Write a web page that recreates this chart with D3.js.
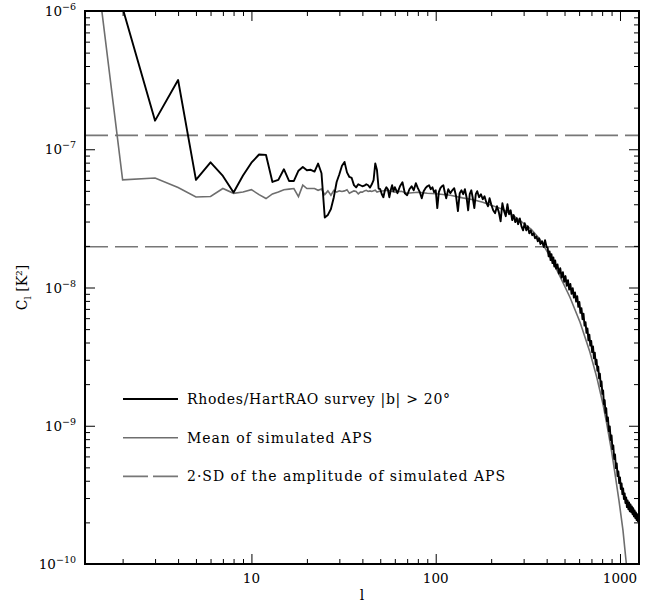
<!DOCTYPE html>
<html>
<head>
<meta charset="utf-8">
<script src="https://cdn.jsdelivr.net/npm/d3@7"></script>
<style>
  body { margin: 0; background: #fff; }
  text { font-family: "DejaVu Serif", serif; fill: #000; }
</style>
</head>
<body>
<svg id="chart" width="658" height="603"></svg>
<script>
// Rhodes/HartRAO survey APS, |b| > 20 deg
var survey_l = [2,3,4,5,6,7,8,9,10,11,12,13,14,15,16,17,18,19,20,21,22,23,24,25,26,27,28,29,30,31,32,33,34,35,36,37,38,39,40,41,42,43,44,45,46,47,48,49,
  50,51,52,53,54,55,56,57,58,59,60,62,64,66,68,70,72,74,76,78,80,82,84,86,88,90,92,94,96,98,100,102,104,106,108,110,112,114,117,120,123,126,129,132,135,138,141,144,147,150,153,156,159,162,165,168,172,176,180,184,188,192,196,200,205,210,215,220,225,230,235,240,245,250,255,260,265,270,275,280,286,292,298,304,310,316,322,328,334,340,346,352,358,364,370,378,386,392,400,
  405,410,415,420,425,430,435,440,445,450,458,466,474,482,490,498,506,514,522,530,538,546,554,562,570,578,586,594,602,610,618,626,634,642,650,658,666,674,682,690,698,706,714,722,730,738,746,754,762,770,778,786,794,802,810,818,826,834,842,850,860,870,880,890,900,910,920,930,940,950,960,970,980,990,1000,1010,1020,1030,1040,1050,1060,1070,1080,1090,1100,1110,1120,1130,1140,1150,1160,1170,1180,1190,1200,1210,1220,1230,1240,1250,1260,1268];
var survey_c = [1.05e-6,1.61e-7,3.17e-7,6.0e-8,8.05e-8,6.41e-8,4.86e-8,6.45e-8,8.0e-8,9.16e-8,9.1e-8,5.8e-8,6.0e-8,7.17e-8,5.9e-8,5.9e-8,7.0e-8,7.45e-8,7.05e-8,7.1e-8,6.9e-8,7.88e-8,6.7e-8,3.21e-8,3.35e-8,3.7e-8,4.5e-8,5.8e-8,6.6e-8,7.6e-8,8.1e-8,6.8e-8,6.3e-8,6.2e-8,5.5e-8,5.3e-8,5.58e-8,5.49e-8,5.40e-8,5.45e-8,5.58e-8,5.49e-8,5.28e-8,5.58e-8,5.97e-8,7.9e-8,7.08e-8,5.2e-8,
  5.14e-8,4.73e-8,4.50e-8,5.05e-8,5.31e-8,5.14e-8,4.50e-8,5.05e-8,5.49e-8,4.97e-8,5.31e-8,4.81e-8,5.40e-8,5.77e-8,4.81e-8,4.65e-8,5.14e-8,5.40e-8,5.05e-8,5.68e-8,5.23e-8,4.89e-8,4.42e-8,4.97e-8,5.23e-8,5.40e-8,5.49e-8,5.14e-8,5.31e-8,4.89e-8,5.05e-8,3.75e-8,4.89e-8,5.23e-8,5.40e-8,5.49e-8,4.89e-8,4.42e-8,5.14e-8,4.81e-8,5.05e-8,5.23e-8,4.57e-8,3.57e-8,4.81e-8,5.05e-8,4.73e-8,5.14e-8,4.50e-8,3.62e-8,4.73e-8,5.05e-8,4.42e-8,3.75e-8,4.73e-8,4.97e-8,4.50e-8,4.73e-8,4.35e-8,4.57e-8,4.14e-8,3.87e-8,4.42e-8,4.00e-8,3.62e-8,3.45e-8,3.87e-8,3.51e-8,3.01e-8,4.07e-8,3.57e-8,3.28e-8,4.00e-8,3.39e-8,3.62e-8,3.07e-8,3.34e-8,2.97e-8,3.17e-8,2.87e-8,3.16e-8,2.77e-8,2.59e-8,2.92e-8,2.59e-8,2.77e-8,2.47e-8,2.59e-8,2.39e-8,2.47e-8,2.27e-8,2.34e-8,2.16e-8,2.27e-8,2.06e-8,2.16e-8,1.96e-8,2.20e-8,1.96e-8,
  1.94e-8,1.68e-8,1.82e-8,1.58e-8,1.74e-8,1.50e-8,1.65e-8,1.42e-8,1.57e-8,1.37e-8,1.47e-8,1.26e-8,1.38e-8,1.18e-8,1.29e-8,1.10e-8,1.21e-8,1.03e-8,1.13e-8,9.65e-9,1.06e-8,9.0e-9,9.9e-9,8.45e-9,9.2e-9,7.9e-9,8.65e-9,7.25e-9,7.85e-9,6.55e-9,7.08e-9,5.9e-9,6.46e-9,5.3e-9,5.62e-9,4.7e-9,5.05e-9,4.15e-9,4.56e-9,3.8e-9,4.11e-9,3.41e-9,3.74e-9,3.08e-9,3.38e-9,2.78e-9,3.0e-9,2.5e-9,2.68e-9,2.2e-9,2.38e-9,1.93e-9,2.09e-9,1.7e-9,1.80e-9,1.43e-9,1.53e-9,1.24e-9,1.34e-9,1.08e-9,1.15e-9,9.15e-10,9.9e-10,7.88e-10,8.5e-10,6.78e-10,7.2e-10,5.75e-10,6.2e-10,4.94e-10,5.34e-10,4.32e-10,4.67e-10,3.85e-10,4.23e-10,3.49e-10,3.83e-10,3.2e-10,3.52e-10,2.95e-10,3.24e-10,2.76e-10,3.03e-10,2.58e-10,2.88e-10,2.49e-10,2.79e-10,2.41e-10,2.7e-10,2.37e-10,2.61e-10,2.29e-10,2.53e-10,2.21e-10,2.44e-10,2.15e-10,2.36e-10,2.08e-10,2.29e-10,2.04e-10,2.25e-10,2.06e-10];

// mean of the simulated APS
var mean_l = [1,2,3,4,5,6,7,8,9,10,11,12,13,14,15,16,17,18,19,20,21,22,23,24,25,26,27,28,29,30,31,32,33,34,35,36,37,38,39,40,41,42,43,44,45,46,47,48,49,
  50,55,60,65,70,80,90,100,120,140,160,180,200,230,260,300,330,368,417,472,535,607,687,750,809,850,893,939,987,1038,1078,1119];
var mean_c = [1.1e-4,6.0e-8,6.2e-8,5.28e-8,4.52e-8,4.55e-8,5.2e-8,4.8e-8,4.9e-8,5.1e-8,4.7e-8,4.4e-8,4.75e-8,4.9e-8,5.1e-8,5.15e-8,5.2e-8,4.55e-8,5.5e-8,5.2e-8,5.2e-8,5.2e-8,5.05e-8,5.15e-8,4.7e-8,5.0e-8,4.65e-8,5.05e-8,4.9e-8,5.0e-8,4.95e-8,5.0e-8,5.1e-8,4.8e-8,4.9e-8,5.0e-8,4.95e-8,4.75e-8,4.9e-8,4.9e-8,5.0e-8,5.05e-8,4.95e-8,5.0e-8,4.95e-8,5.0e-8,5.05e-8,4.9e-8,4.95e-8,
  4.97e-8,5.05e-8,4.89e-8,4.97e-8,4.81e-8,4.89e-8,4.81e-8,4.77e-8,4.65e-8,4.45e-8,4.31e-8,4.14e-8,3.94e-8,3.69e-8,3.36e-8,2.91e-8,2.64e-8,2.23e-8,1.68e-8,1.21e-8,8.50e-9,5.61e-9,3.40e-9,2.21e-9,1.43e-9,1.01e-9,6.99e-10,4.53e-10,2.89e-10,1.75e-10,1.06e-10,6.5e-11];

// 2 SD of the amplitude of the simulated APS
var sd_levels = [1.26e-7, 1.97e-8];

var x_major = [10, 100, 1000];
var x_tick_labels = ["10", "100", "1000"];
var y_major = [1e-10, 1e-9, 1e-8, 1e-7, 1e-6];
var y_tick_exponents = ["\u221210", "\u22129", "\u22128", "\u22127", "\u22126"];
var legend_labels = ["Rhodes/HartRAO survey |b| > 20\u00b0", "Mean of simulated APS", "2\u00b7SD of the amplitude of simulated APS"];

var svg = d3.select("#chart");
var margin = {top: 11, right: 19, bottom: 39, left: 85};
var width = 658 - margin.left - margin.right;
var height = 603 - margin.top - margin.bottom;

var x = d3.scaleLog().domain([1.25, 1268]).range([0, width]);
var y = d3.scaleLog().domain([1e-10, 1e-6]).range([height, 0]);

var g = svg.append("g").attr("transform", "translate(" + margin.left + "," + margin.top + ")");

g.append("clipPath").attr("id", "plotclip")
  .append("rect").attr("width", width).attr("height", height);

var plot = g.append("g").attr("clip-path", "url(#plotclip)");

// dashed 2SD levels
plot.selectAll("line.sd")
  .data(sd_levels)
  .enter().append("line")
  .attr("class", "sd")
  .attr("x1", 0).attr("x2", width)
  .attr("y1", function(d) { return y(d); })
  .attr("y2", function(d) { return y(d); })
  .attr("stroke", "#777")
  .attr("stroke-width", 1.6)
  .attr("stroke-dasharray", "23,7");

var line = d3.line()
  .x(function(d) { return x(d[0]); })
  .y(function(d) { return y(d[1]); });

plot.append("path")
  .datum(d3.zip(mean_l, mean_c))
  .attr("d", line)
  .attr("fill", "none")
  .attr("stroke", "#6e6e6e")
  .attr("stroke-width", 1.6);

plot.append("path")
  .datum(d3.zip(survey_l, survey_c))
  .attr("d", line)
  .attr("fill", "none")
  .attr("stroke", "#000")
  .attr("stroke-width", 1.9)
  .attr("stroke-linejoin", "round");

// ticks on all four sides, pointing inwards
var x_minor = x.ticks().filter(function(d) { return x_major.indexOf(d) < 0; });
var y_minor = y.ticks().filter(function(d) { return y_major.indexOf(d) < 0; });

function tick_axis(axis, transform, values, size) {
  var a = g.append("g")
    .attr("transform", transform)
    .call(axis.tickValues(values).tickSize(-size).tickFormat(""));
  a.select(".domain").remove();
  a.selectAll("line").attr("stroke", "#000").attr("stroke-width", 1);
}

tick_axis(d3.axisBottom(x), "translate(0," + height + ")", x_major, 10);
tick_axis(d3.axisBottom(x), "translate(0," + height + ")", x_minor, 5);
tick_axis(d3.axisTop(x), "translate(0,0)", x_major, 10);
tick_axis(d3.axisTop(x), "translate(0,0)", x_minor, 5);
tick_axis(d3.axisLeft(y), "translate(0,0)", y_major, 10);
tick_axis(d3.axisLeft(y), "translate(0,0)", y_minor, 5);
tick_axis(d3.axisRight(y), "translate(" + width + ",0)", y_major, 10);
tick_axis(d3.axisRight(y), "translate(" + width + ",0)", y_minor, 5);

g.append("rect")
  .attr("width", width).attr("height", height)
  .attr("fill", "none").attr("stroke", "#000").attr("stroke-width", 2);

// tick labels
g.selectAll("text.xlab")
  .data(x_major)
  .enter().append("text")
  .attr("class", "xlab")
  .attr("x", function(d) { return x(d); })
  .attr("y", height + 19)
  .attr("text-anchor", "middle")
  .attr("font-size", 13.5)
  .text(function(d, i) { return x_tick_labels[i]; });

var ylab = g.selectAll("text.ylab")
  .data(y_major)
  .enter().append("text")
  .attr("class", "ylab")
  .attr("x", -9)
  .attr("y", function(d) { return y(d) + 5; })
  .attr("text-anchor", "end")
  .attr("font-size", 13.5);
ylab.append("tspan").text("10");
ylab.append("tspan")
  .attr("dy", -6)
  .attr("font-size", 9.5)
  .text(function(d, i) { return y_tick_exponents[i]; });

// axis titles
g.append("text")
  .attr("x", width / 2)
  .attr("y", height + 36)
  .attr("text-anchor", "middle")
  .attr("font-size", 14)
  .text("l");

var ytitle = g.append("text")
  .attr("transform", "translate(" + (-58) + "," + (height / 2) + ") rotate(-90)")
  .attr("text-anchor", "middle")
  .attr("font-size", 14);
ytitle.append("tspan").text("C");
ytitle.append("tspan").attr("dy", 4).attr("font-size", 10).text("l");
ytitle.append("tspan").attr("dy", -4).text(" [K\u00b2]");

// legend
var legend_styles = [
  {stroke: "#000", dash: null, width: 1.8},
  {stroke: "#6e6e6e", dash: null, width: 1.6},
  {stroke: "#777", dash: "25,5", width: 1.6}
];
var legend_text_len = [263, 185, 318];
var legend = g.selectAll("g.legend")
  .data(legend_labels)
  .enter().append("g")
  .attr("class", "legend")
  .attr("transform", function(d, i) { return "translate(38," + (388 + i * 38.7) + ")"; });
legend.append("line")
  .attr("x1", 0).attr("x2", 55)
  .attr("stroke", function(d, i) { return legend_styles[i].stroke; })
  .attr("stroke-width", function(d, i) { return legend_styles[i].width; })
  .attr("stroke-dasharray", function(d, i) { return legend_styles[i].dash; });
legend.append("text")
  .attr("x", 64)
  .attr("y", 5)
  .attr("font-size", 14)
  .attr("textLength", function(d, i) { return legend_text_len[i]; })
  .attr("lengthAdjust", "spacing")
  .text(function(d) { return d; });
</script>
</body>
</html>
